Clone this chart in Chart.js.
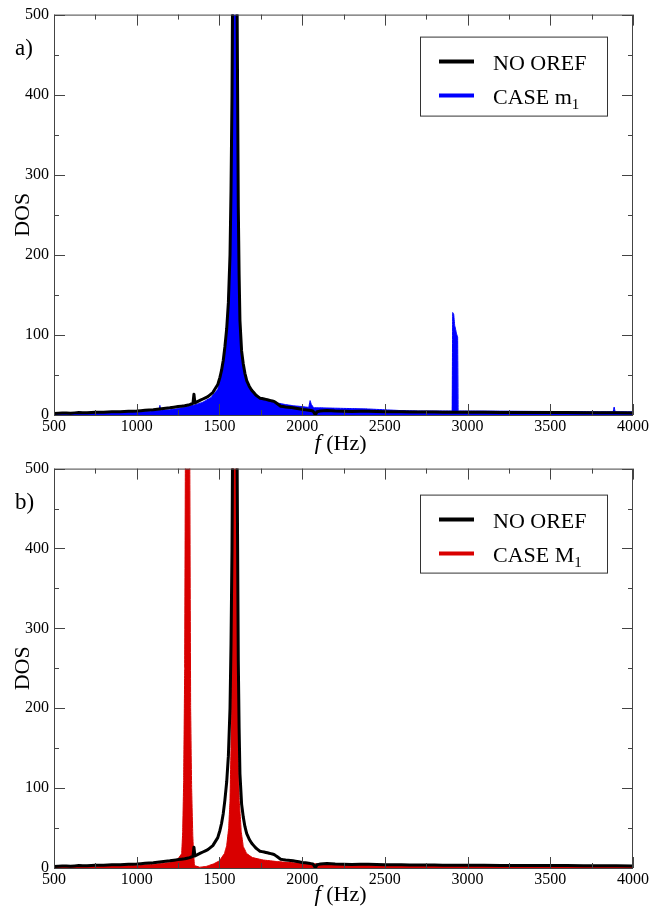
<!DOCTYPE html>
<html>
<head>
<meta charset="utf-8">
<script src="https://cdn.jsdelivr.net/npm/chart.js@4.4.1/dist/chart.umd.min.js"></script>
<style>
  html, body { margin: 0; padding: 0; background: #fff; }
  .painel { position: relative; width: 672px; }
  #painel-a { height: 454px; }
  #painel-b { height: 455px; }
</style>
</head>
<body>
<div class="painel" id="painel-a"><canvas id="grafico-a"></canvas></div>
<div class="painel" id="painel-b"><canvas id="grafico-b"></canvas></div>
<script>
// reference curve (same in both panels)
const noOrefFreq = [500, 550, 600, 650, 700, 750, 800, 850, 900, 950, 1000, 1050, 1100, 1150, 1200, 1250, 1290, 1320, 1340, 1346, 1352, 1370, 1400, 1430, 1460, 1490, 1503, 1513, 1523, 1533, 1544, 1554, 1564, 1570, 1576, 1580, 1586, 1600, 1606, 1610, 1614, 1619, 1624, 1634, 1644, 1654, 1665, 1680, 1695, 1720, 1745, 1770, 1790, 1810, 1830, 1850, 1870, 1900, 1930, 1960, 2000, 2040, 2065, 2075, 2080, 2090, 2110, 2150, 2200, 2300, 2400, 2500, 2600, 2700, 2800, 2900, 3000, 3200, 3400, 3600, 3800, 4000]
const noOrefDos = [2, 2.5, 2.3, 3, 2.8, 3.5, 3.3, 4, 4.2, 4.6, 5, 5.8, 6.5, 7.8, 9, 10.5, 11.5, 13, 14.5, 26, 15, 17, 20, 23, 28, 38, 47, 56, 68, 85, 108, 140, 200, 280, 400, 540, 900, 900, 540, 400, 260, 175, 118, 80, 64, 52, 43, 36, 31, 25, 21, 20, 19, 18, 17, 14, 11, 10, 9.5, 8.5, 7, 6, 5, 2, 0, 4, 5, 5.5, 5, 4.5, 4.6, 4.2, 4, 3.8, 3.6, 3.5, 3.4, 3.2, 3, 3, 2.8, 2.6]

// panel a: CASE m1
const caseAFreq = [500, 600, 700, 800, 900, 1000, 1100, 1135, 1140, 1146, 1200, 1250, 1300, 1350, 1400, 1450, 1490, 1503, 1523, 1544, 1564, 1570, 1576, 1580, 1586, 1600, 1606, 1610, 1614, 1619, 1624, 1634, 1644, 1665, 1695, 1745, 1800, 1850, 1900, 1950, 2000, 2040, 2048, 2056, 2070, 2100, 2200, 2300, 2400, 2500, 2600, 2700, 2800, 2900, 2907, 2910, 2916, 2922, 2934, 2940, 2943, 3000, 3200, 3400, 3600, 3800, 3880, 3886, 3892, 4000]
const caseADos = [1.5, 2, 2.5, 3, 3.5, 4, 5, 5.5, 12, 6, 6.5, 8, 10, 12.5, 16, 22, 32, 42, 64, 105, 195, 275, 395, 530, 900, 900, 530, 395, 255, 170, 115, 78, 62, 42, 30, 22, 18, 15, 13, 11.5, 10.5, 9.5, 18, 13, 9, 9, 8.5, 8, 7.5, 6.5, 5.5, 5, 5, 5, 5, 128, 126, 112, 101, 97, 5, 5, 4.8, 4.5, 4.3, 4, 4, 10, 4, 4]

// panel b: CASE M1
const caseBFreq = [500, 600, 700, 800, 900, 1000, 1100, 1150, 1200, 1252, 1272, 1278, 1284, 1290, 1294, 1298, 1316, 1321, 1326, 1332, 1339, 1344, 1349, 1380, 1420, 1463, 1500, 1530, 1544, 1556, 1564, 1570, 1576, 1580, 1586, 1598, 1604, 1610, 1616, 1620, 1632, 1644, 1665, 1700, 1765, 1850, 1950, 2100, 2350, 2600, 3000, 3500, 4000]
const caseBDos = [1, 1.5, 2, 2.5, 3, 3.5, 4.5, 5.5, 7, 12, 18, 45, 110, 250, 500, 900, 900, 500, 200, 100, 40, 18, 3, 1, 2, 5, 9, 18, 28, 50, 84, 150, 300, 600, 900, 900, 600, 300, 130, 84, 45, 27, 18, 13, 10, 8, 6.5, 5, 3.7, 3, 2.5, 2.2, 2]

const xTicks = [500, 1000, 1500, 2000, 2500, 3000, 3500, 4000]
const xMinorTicks = [750, 1250, 1750, 2250, 2750, 3250, 3750]
const yTicks = [0, 100, 200, 300, 400, 500]
const yMinorTicks = [50, 150, 250, 350, 450]

const fonte = 'Liberation Serif, Times New Roman, serif'

function pontos(freq, dos) {
  return freq.map((f, i) => ({ x: f, y: dos[i] }))
}

const subDigitos = '₀₁₂₃₄₅₆₇₈₉'

// frame, inward ticks, panel letter, x title and boxed legend
const decoracao = {
  id: 'decoracao',
  afterDatasetsDraw(chart, args, opts) {
    const { ctx, chartArea: a, scales: { x, y } } = chart
    ctx.save()
    ctx.strokeStyle = '#444'
    ctx.lineWidth = 1
    ctx.strokeRect(a.left + 0.5, a.top + 0.5, a.right - a.left - 1, a.bottom - a.top)

    const marca = (px, py, dx, dy) => {
      ctx.beginPath()
      ctx.moveTo(px, py)
      ctx.lineTo(px + dx, py + dy)
      ctx.stroke()
    }
    xTicks.concat(xMinorTicks).forEach(v => {
      const len = xTicks.includes(v) ? 11 : 5
      const px = Math.round(x.getPixelForValue(v)) + 0.5
      marca(px, a.bottom, 0, -len)
      marca(px, a.top, 0, len)
    })
    yTicks.concat(yMinorTicks).forEach(v => {
      const len = yTicks.includes(v) ? 11 : 5
      const py = Math.round(y.getPixelForValue(v)) + 0.5
      marca(a.left, py, len, 0)
      marca(a.right, py, -len, 0)
    })

    ctx.fillStyle = '#000'
    // panel letter
    ctx.font = `23px ${fonte}`
    ctx.textAlign = 'left'
    ctx.textBaseline = 'middle'
    ctx.fillText(opts.letra, 15, a.top + 34)

    // x title: italic f + (Hz)
    ctx.font = `italic 23px ${fonte}`
    const wf = ctx.measureText('f').width
    ctx.font = `22px ${fonte}`
    const wr = ctx.measureText(' (Hz)').width
    const cx = (a.left + a.right) / 2 - 3
    const ty = a.bottom + opts.tituloX
    const sx = cx - (wf + wr) / 2
    ctx.font = `italic 23px ${fonte}`
    ctx.fillText('f', sx, ty)
    ctx.font = `22px ${fonte}`
    ctx.fillText(' (Hz)', sx + wf, ty)

    // legend box
    const b = opts.caixa
    ctx.fillStyle = '#fff'
    ctx.fillRect(b.left, a.top + b.top, b.width, b.height)
    ctx.strokeStyle = '#333'
    ctx.strokeRect(b.left + 0.5, a.top + b.top + 0.5, b.width, b.height)
    chart.data.datasets.forEach((ds, i) => {
      const ry = a.top + b.top + 25 + i * 34
      ctx.strokeStyle = ds.borderColor
      ctx.lineWidth = 4
      marca(b.left + 19, ry, 35, 0)
      let texto = ds.label
      let sub = ''
      while (texto.length && subDigitos.includes(texto[texto.length - 1])) {
        sub = subDigitos.indexOf(texto[texto.length - 1]) + sub
        texto = texto.slice(0, -1)
      }
      ctx.fillStyle = '#000'
      ctx.textBaseline = 'alphabetic'
      ctx.font = `22px ${fonte}`
      ctx.fillText(texto, b.left + 73, ry + 8)
      if (sub) {
        const w = ctx.measureText(texto).width
        ctx.font = `15px ${fonte}`
        ctx.fillText(sub, b.left + 73 + w, ry + 13)
      }
    })
    ctx.restore()
  }
}

// tiny tension keeps the lines straight but avoids the min/max fast path
const linhaReta = { tension: 0.0001, capBezierPoints: false, borderJoinStyle: 'round', pointRadius: 0, clip: 0 }

function renderizarPainel(id, caso, cfg) {
  const ctx = document.getElementById(id).getContext('2d')
  return new Chart(ctx, {
    type: 'line',
    data: {
      datasets: [
        {
          ...linhaReta,
          label: 'NO OREF',
          data: pontos(noOrefFreq, noOrefDos),
          borderColor: '#000000',
          borderWidth: 3,
          fill: false
        },
        {
          ...linhaReta,
          label: caso.label,
          data: pontos(caso.freq, caso.dos),
          borderColor: caso.cor,
          backgroundColor: caso.cor,
          borderWidth: 1,
          fill: 'origin'
        }
      ]
    },
    options: {
      responsive: true,
      maintainAspectRatio: false,
      animation: false,
      layout: { padding: { top: cfg.topo, right: 39, left: 0, bottom: 0 } },
      scales: {
        x: {
          type: 'linear',
          min: 500,
          max: 4000,
          afterBuildTicks: s => { s.ticks = xTicks.map(v => ({ value: v })) },
          afterFit: s => { s.height = cfg.alturaX },
          grid: { display: false, drawTicks: false },
          border: { display: false },
          ticks: {
            color: '#000',
            padding: 2,
            maxRotation: 0,
            font: { family: fonte, size: 16 },
            callback: v => String(v)
          }
        },
        y: {
          min: 0,
          max: 500,
          afterBuildTicks: s => { s.ticks = yTicks.map(v => ({ value: v })) },
          afterFit: s => { s.width = 54 },
          grid: { display: false, drawTicks: false },
          border: { display: false },
          ticks: {
            color: '#000',
            padding: 5,
            font: { family: fonte, size: 16 },
            callback: v => String(v)
          },
          title: {
            display: true,
            text: 'DOS',
            color: '#000',
            padding: { top: 10, bottom: 0 },
            font: { family: fonte, size: 22, lineHeight: 1.2 }
          }
        }
      },
      plugins: {
        legend: { display: false },
        tooltip: { enabled: false },
        decoracao: cfg.decoracao
      }
    },
    plugins: [decoracao]
  })
}

renderizarPainel('grafico-a',
  { label: 'CASE m₁', freq: caseAFreq, dos: caseADos, cor: '#0000ff' },
  { topo: 11, alturaX: 39, decoracao: { letra: 'a)', tituloX: 29, caixa: { left: 420, top: 22, width: 187, height: 79 } } })

renderizarPainel('grafico-b',
  { label: 'CASE M₁', freq: caseBFreq, dos: caseBDos, cor: '#d90000' },
  { topo: 9, alturaX: 41, decoracao: { letra: 'b)', tituloX: 27, caixa: { left: 420, top: 26, width: 187, height: 78 } } })
</script>
</body>
</html>
